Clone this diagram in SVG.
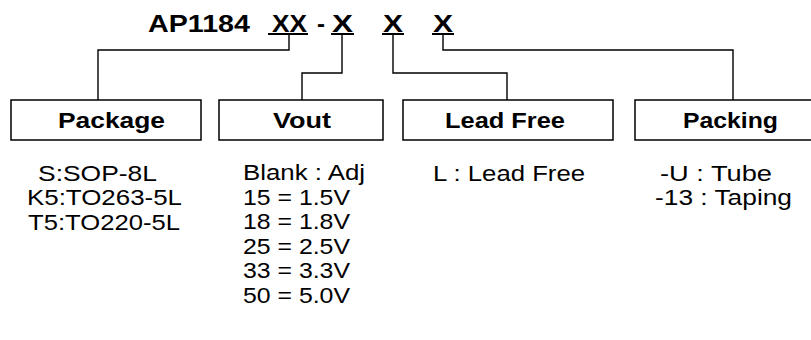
<svg xmlns="http://www.w3.org/2000/svg" width="811" height="340" viewBox="0 0 811 340">
<style>
.t{font-family:"Liberation Sans",Arial,sans-serif;fill:#000}
.b{font-weight:bold}
.ti{font-size:24px}
.lb{font-size:22px}
.tx{font-size:22px}
.box{fill:#fff;stroke:#000;stroke-width:1.5}
.ul{stroke:#000;stroke-width:2}
.cn{fill:none;stroke:#000;stroke-width:1.4}
</style>
<rect width="811" height="340" fill="#fff"/>
<g id="title">
<text class="t b ti" x="148" y="32" textLength="102" lengthAdjust="spacingAndGlyphs">AP1184</text>
<text class="t b ti" x="272" y="32" textLength="35" lengthAdjust="spacingAndGlyphs">XX</text>
<text class="t b ti" x="317" y="32" textLength="8" lengthAdjust="spacingAndGlyphs">-</text>
<text class="t b ti" x="332" y="32" textLength="21" lengthAdjust="spacingAndGlyphs">X</text>
<text class="t b ti" x="383" y="32" textLength="20" lengthAdjust="spacingAndGlyphs">X</text>
<text class="t b ti" x="433" y="32" textLength="20" lengthAdjust="spacingAndGlyphs">X</text>
<line class="ul" x1="268" y1="34" x2="308" y2="34"/>
<line class="ul" x1="331" y1="34" x2="354" y2="34"/>
<line class="ul" x1="382" y1="34" x2="404" y2="34"/>
<line class="ul" x1="432" y1="34" x2="454" y2="34"/>
</g>
<g id="connectors">
<path class="cn" d="M289,35 V50 H98 V100"/>
<path class="cn" d="M342,35 V73 H302 V100"/>
<path class="cn" d="M393,35 V73 H507 V100"/>
<path class="cn" d="M443,35 V50 H733 V100"/>
</g>
<g id="package">
<rect class="box" x="11" y="100" width="190" height="40"/>
<text class="t b lb" x="58" y="127.5" textLength="107" lengthAdjust="spacingAndGlyphs">Package</text>
<text class="t tx" x="38" y="180.5" textLength="119" lengthAdjust="spacingAndGlyphs">S:SOP-8L</text>
<text class="t tx" x="27" y="205" textLength="155" lengthAdjust="spacingAndGlyphs">K5:TO263-5L</text>
<text class="t tx" x="28" y="229.5" textLength="152" lengthAdjust="spacingAndGlyphs">T5:TO220-5L</text>
</g>
<g id="vout">
<rect class="box" x="219" y="100" width="164" height="40"/>
<text class="t b lb" x="273" y="127.5" textLength="58" lengthAdjust="spacingAndGlyphs">Vout</text>
<text class="t tx" x="243" y="180" textLength="122" lengthAdjust="spacingAndGlyphs">Blank : Adj</text>
<text class="t tx" x="243" y="204.5" textLength="107" lengthAdjust="spacingAndGlyphs">15 = 1.5V</text>
<text class="t tx" x="243" y="229" textLength="107" lengthAdjust="spacingAndGlyphs">18 = 1.8V</text>
<text class="t tx" x="243" y="253.5" textLength="107" lengthAdjust="spacingAndGlyphs">25 = 2.5V</text>
<text class="t tx" x="243" y="278" textLength="107" lengthAdjust="spacingAndGlyphs">33 = 3.3V</text>
<text class="t tx" x="243" y="302.5" textLength="107" lengthAdjust="spacingAndGlyphs">50 = 5.0V</text>
</g>
<g id="leadfree">
<rect class="box" x="403" y="100" width="210" height="40"/>
<text class="t b lb" x="445" y="127.5" textLength="120" lengthAdjust="spacingAndGlyphs">Lead Free</text>
<text class="t tx" x="433" y="180.5" textLength="152" lengthAdjust="spacingAndGlyphs">L : Lead Free</text>
</g>
<g id="packing">
<rect class="box" x="635" y="100" width="192" height="40"/>
<text class="t b lb" x="683" y="127.5" textLength="95" lengthAdjust="spacingAndGlyphs">Packing</text>
<text class="t tx" x="660" y="180.5" textLength="112" lengthAdjust="spacingAndGlyphs">-U  : Tube</text>
<text class="t tx" x="655" y="205" textLength="137" lengthAdjust="spacingAndGlyphs">-13 : Taping</text>
</g>
</svg>
